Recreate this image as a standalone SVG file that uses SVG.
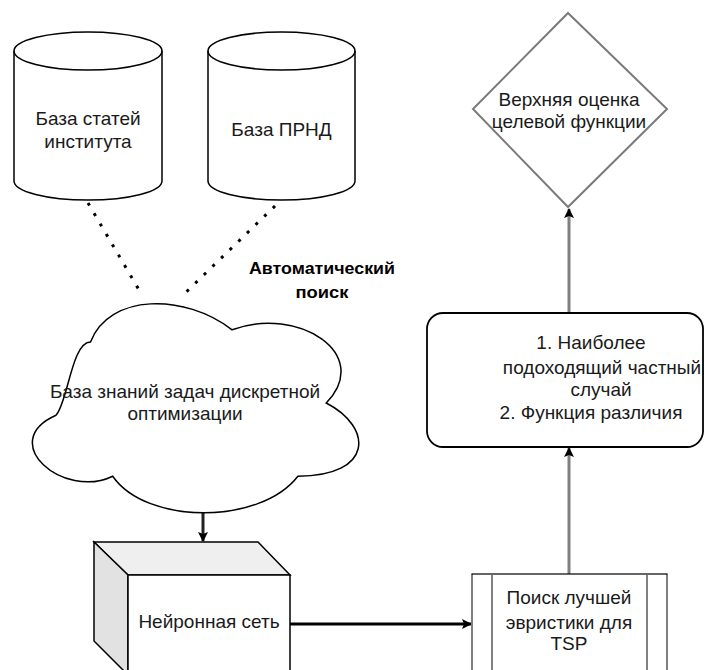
<svg xmlns="http://www.w3.org/2000/svg" width="705" height="670" viewBox="0 0 705 670">
<defs>
<style>
.t{font-family:"Liberation Sans",Arial,sans-serif;font-size:19px;fill:#1a1a1a;text-anchor:middle}
.b{font-family:"Liberation Sans",Arial,sans-serif;font-size:17px;font-weight:bold;fill:#000;text-anchor:middle}
.shape{fill:#fff;stroke:#000;stroke-width:1.5}
.dot{fill:none;stroke:#000;stroke-width:3;stroke-dasharray:3 9}
.gray{fill:none;stroke:#808080;stroke-width:3}
</style>
<marker id="ah" viewBox="0 0 10 10" refX="9" refY="5" markerWidth="10" markerHeight="10" markerUnits="userSpaceOnUse" orient="auto">
<path d="M0,0 L10,5 L0,10 L2,5 Z" fill="#000"/>
</marker>
<marker id="ahs" viewBox="0 0 10 10" refX="9" refY="5" markerWidth="12" markerHeight="10" markerUnits="userSpaceOnUse" orient="auto">
<path d="M0,0 L10,5 L0,10 L2,5 Z" fill="#000"/>
</marker>
</defs>
<rect width="705" height="670" fill="#fff"/>

<g id="connectors">
<line class="dot" x1="88" y1="203" x2="142" y2="295"/>
<line class="dot" x1="275" y1="206" x2="181" y2="297"/>
<line x1="203" y1="513" x2="203" y2="541" stroke="#222" stroke-width="3" marker-end="url(#ah)"/>
<line x1="290" y1="624" x2="471" y2="624" stroke="#000" stroke-width="3" marker-end="url(#ah)"/>
<line class="gray" x1="569" y1="574" x2="569" y2="448" marker-end="url(#ahs)"/>
<line class="gray" x1="569" y1="313" x2="569" y2="209" marker-end="url(#ahs)"/>
</g>

<g id="label-auto">
<text class="b" x="322" y="274" textLength="146" lengthAdjust="spacingAndGlyphs">Автоматический</text>
<text class="b" x="322" y="298" textLength="53" lengthAdjust="spacingAndGlyphs">поиск</text>
</g>

<g id="db-articles">
<path class="shape" d="M14,51 A74,19 0 0 1 162,51 L162,181 A74,19 0 0 1 14,181 Z"/>
<path d="M14,51 A74,19 0 0 0 162,51" fill="none" stroke="#000" stroke-width="1.5"/>
<text class="t" x="88" y="125">База статей</text>
<text class="t" x="88" y="148">института</text>
</g>

<g id="db-prnd">
<path class="shape" d="M208,51 A73.5,19 0 0 1 355,51 L355,181 A73.5,19 0 0 1 208,181 Z"/>
<path d="M208,51 A73.5,19 0 0 0 355,51" fill="none" stroke="#000" stroke-width="1.5"/>
<text class="t" x="281.5" y="136">База ПРНД</text>
</g>

<g id="knowledge-cloud">
<path class="shape" d="M90.5,342 C71.6,342 67.8,403 56,415.2 C-4,442 63.5,500 112.7,476.2 C146.7,525 260,525 297.9,476.2 C373.5,476.2 373.5,427.4 326.25,403 C373.5,354 297.9,305.4 232.1,329.8 C184.7,293.2 109.1,293.2 90.5,342 Z"/>
<text class="t" x="185" y="398">База знаний задач дискретной</text>
<text class="t" x="185" y="420">оптимизации</text>
</g>

<g id="neural-net">
<path d="M94,542 L258,542 L290,575 L128,575 Z" fill="#efefef" stroke="#000" stroke-width="1.5"/>
<path d="M94,542 L128,575 L128,675 L94,641 Z" fill="#e2e2e2" stroke="#000" stroke-width="1.5"/>
<rect x="128" y="575" width="162" height="100" fill="#fff" stroke="#000" stroke-width="1.5"/>
<text class="t" x="209" y="628">Нейронная сеть</text>
</g>

<g id="tsp-search">
<rect x="472" y="574" width="195" height="110" fill="#fff" stroke="#000" stroke-width="1.2"/>
<line x1="472" y1="575" x2="472" y2="684" stroke="#808080" stroke-width="2"/>
<line x1="667" y1="575" x2="667" y2="684" stroke="#808080" stroke-width="2"/>
<line x1="492" y1="575" x2="492" y2="684" stroke="#808080" stroke-width="2"/>
<line x1="647" y1="575" x2="647" y2="684" stroke="#808080" stroke-width="2"/>
<text class="t" x="569" y="604">Поиск лучшей</text>
<text class="t" x="569" y="629">эвристики для</text>
<text class="t" x="569" y="650">TSP</text>
</g>

<g id="best-case">
<rect x="427" y="313" width="276" height="134" rx="16" ry="16" fill="#fff" stroke="#000" stroke-width="1.8"/>
<text class="t" x="591" y="349">1. Наиболее</text>
<text class="t" x="602" y="374">подоходящий частный</text>
<text class="t" x="601" y="396">случай</text>
<text class="t" x="591" y="419">2. Функция различия</text>
</g>

<g id="upper-bound">
<path d="M568,13 L667,109 L568,207 L473,109 Z" fill="#fff" stroke="#7a7a7a" stroke-width="2"/>
<text class="t" x="569" y="106">Верхняя оценка</text>
<text class="t" x="569" y="128">целевой функции</text>
</g>
</svg>
